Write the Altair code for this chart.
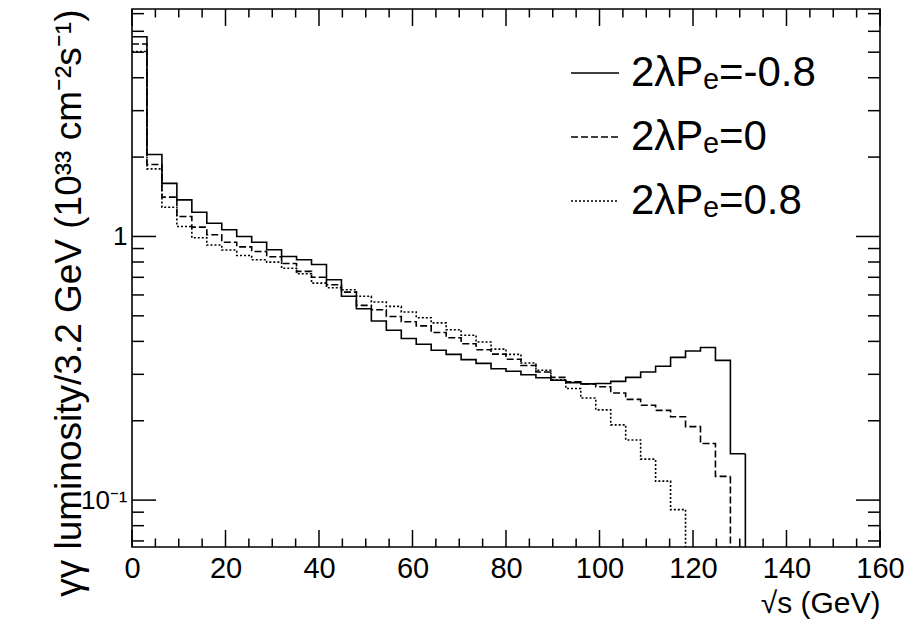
import altair as alt
import pandas as pd

# ---------------- data ----------------
bin_width = 3.2  # GeV
series_labels = ["2λPₑ=-0.8", "2λPₑ=0", "2λPₑ=0.8"]

lum_m08 = [5.72, 2.045, 1.59, 1.377, 1.235, 1.123, 1.060, 1.0, 0.951, 0.890,
           0.840, 0.816, 0.783, 0.685, 0.593, 0.532, 0.478, 0.441, 0.410, 0.390,
           0.370, 0.357, 0.341, 0.330, 0.315, 0.308, 0.299, 0.291, 0.285, 0.279,
           0.276, 0.277, 0.282, 0.292, 0.306, 0.322, 0.348, 0.368, 0.379, 0.339,
           0.150]
lum_0 = [5.37, 1.874, 1.41, 1.19, 1.085, 1.015, 0.951, 0.913, 0.877, 0.838,
         0.790, 0.737, 0.700, 0.656, 0.615, 0.548, 0.527, 0.497, 0.475, 0.458,
         0.432, 0.413, 0.392, 0.372, 0.358, 0.342, 0.324, 0.306, 0.292, 0.281,
         0.276, 0.269, 0.255, 0.241, 0.229, 0.219, 0.207, 0.190, 0.164, 0.123]
lum_p08 = [5.03, 1.804, 1.29, 1.091, 0.989, 0.928, 0.888, 0.847, 0.816, 0.799,
           0.758, 0.722, 0.665, 0.639, 0.628, 0.593, 0.564, 0.543, 0.517, 0.492,
           0.470, 0.443, 0.422, 0.398, 0.374, 0.357, 0.331, 0.311, 0.286, 0.265,
           0.244, 0.220, 0.193, 0.169, 0.143, 0.118, 0.092]

x_domain = [0, 160]
y_domain = [0.0664, 7.29]
x_major = [0, 20, 40, 60, 80, 100, 120, 140, 160]
x_minor = [v for v in range(0, 161, 5) if v % 20]
y_major = [0.1, 1]
y_minor = [0.07, 0.08, 0.09, 0.2, 0.3, 0.4, 0.5, 0.6, 0.7, 0.8, 0.9,
           2, 3, 4, 5, 6, 7]

# ---------------- layout / style ----------------
W, H = 748, 538
FONT = "Liberation Sans"

rows, ends = [], []
for label, vals in zip(series_labels, [lum_m08, lum_0, lum_p08]):
    for i, v in enumerate(vals):
        rows.append({"x": round(i * bin_width, 4), "y": v, "s": label})
    xe = round(len(vals) * bin_width, 4)
    rows.append({"x": xe, "y": vals[-1], "s": label})
    ends.append({"x": xe, "y": vals[-1], "s": label})
df = pd.DataFrame(rows)
df_end = pd.DataFrame(ends)

xs = alt.Scale(domain=x_domain, nice=False, zero=False)
ys = alt.Scale(type="log", domain=y_domain, nice=False)
dash_scale = alt.Scale(domain=series_labels, range=[[1, 0], [7, 3], [2, 2]])

lines = alt.Chart(df).mark_line(
    interpolate="step-after", color="black", strokeWidth=1.6, clip=True
).encode(
    x=alt.X("x:Q", scale=xs, axis=alt.Axis(
        orient="bottom",
        values=x_major, format="d", ticks=False, domain=False, grid=False,
        labelFontSize=29, labelPadding=7, labelFont=FONT, labelColor="black",
        labelFlush=False,
        title="√s (GeV)", titleFont=FONT, titleFontSize=30,
        titleFontWeight="normal", titleColor="black",
        titleX=W, titleY=41, titleAlign="right", titleBaseline="top")),
    y=alt.Y("y:Q", scale=ys, axis=alt.Axis(
        orient="left",
        values=y_major, labelExpr="datum.value == 1 ? '1' : '10⁻¹'",
        ticks=False, domain=False, grid=False,
        labelFontSize=26, labelPadding=5, labelFont=FONT, labelColor="black",
        title="γγ luminosity/3.2 GeV (10³³ cm⁻²s⁻¹)", titleFont=FONT,
        titleFontSize=37, titleFontWeight="normal", titleColor="black",
        titleX=-63, titleY=0, titleAngle=270, titleAlign="right",
        titleBaseline="middle")),
    strokeDash=alt.StrokeDash("s:N", scale=dash_scale, sort=series_labels,
                              legend=alt.Legend(
        title=None, orient="none", legendX=438, legendY=39,
        symbolType="stroke", symbolSize=2304, symbolStrokeWidth=1.6,
        symbolStrokeColor="black", labelFontSize=42, labelFont=FONT,
        labelColor="black", labelOffset=11, labelLimit=500,
        rowPadding=18, padding=0)),
)

drops = alt.Chart(df_end).mark_rule(color="black", strokeWidth=1.6).encode(
    x=alt.X("x:Q", scale=xs, axis=None),
    y=alt.Y("y:Q", scale=ys, axis=None),
    y2=alt.value(H),
    strokeDash=alt.StrokeDash("s:N", scale=dash_scale, legend=None),
)


def yticks(vals, length, right=False):
    x0 = W - length if right else 0
    x1 = W if right else length
    return alt.Chart(pd.DataFrame({"v": vals})).mark_rule(
        color="black", strokeWidth=1.5).encode(
        y=alt.Y("v:Q", scale=ys, axis=None),
        x=alt.value(x0), x2=alt.value(x1))


def xticks(vals, length, top=False):
    y0 = 0 if top else H - length
    y1 = length if top else H
    return alt.Chart(pd.DataFrame({"v": vals})).mark_rule(
        color="black", strokeWidth=1.5).encode(
        x=alt.X("v:Q", scale=xs, axis=None),
        y=alt.value(y0), y2=alt.value(y1))


ticks = [
    yticks(y_major, 24), yticks(y_minor, 12),
    yticks(y_major, 24, right=True), yticks(y_minor, 12, right=True),
    xticks(x_major, 17), xticks(x_minor, 8.5),
    xticks(x_major, 17, top=True), xticks(x_minor, 8.5, top=True),
]

chart = alt.layer(lines, drops, *ticks).resolve_axis(
    x="independent", y="independent"
).properties(
    width=W, height=H,
    padding={"left": 124, "top": 1, "right": 30, "bottom": 75},
    autosize=alt.AutoSizeParams(type="none"),
    background="white",
).configure_view(stroke="black", strokeWidth=1.6)

chart.save("out.html", embed_options={"renderer": "svg", "actions": False})
